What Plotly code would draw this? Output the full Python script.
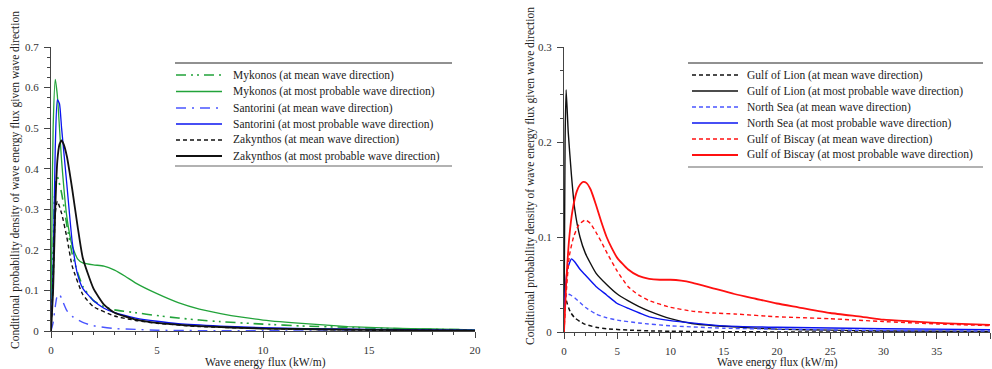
import plotly.graph_objects as go

# ---------------- data: left panel (Greek islands) ----------------
myk_mean_x = [0, 0.1, 0.2, 0.3, 0.5, 0.75, 1, 1.25, 1.5, 2, 2.5, 3, 4, 5, 6, 7, 8, 10, 12, 14, 16, 18, 20]
myk_mean_y = [0, 0.2, 0.36, 0.38, 0.34, 0.26, 0.19, 0.145, 0.11, 0.075, 0.06, 0.052, 0.045, 0.038, 0.032, 0.027, 0.023, 0.017, 0.012, 0.009, 0.006, 0.004, 0.003]

myk_prob_x = [0, 0.05, 0.1, 0.2, 0.3, 0.5, 0.75, 1.0, 1.25, 1.5, 2, 2.5, 3, 3.5, 4, 5, 6, 7, 8, 9, 10, 12, 14, 16, 18, 20]
myk_prob_y = [0, 0.3, 0.5, 0.62, 0.58, 0.42, 0.28, 0.21, 0.178, 0.168, 0.163, 0.16, 0.15, 0.135, 0.118, 0.092, 0.07, 0.054, 0.043, 0.034, 0.027, 0.018, 0.011, 0.007, 0.005, 0.003]

san_mean_x = [0, 0.1, 0.2, 0.3, 0.4, 0.5, 0.75, 1, 1.5, 2, 3, 4, 5, 7, 10, 15, 20]
san_mean_y = [0, 0.02, 0.06, 0.088, 0.09, 0.08, 0.05, 0.036, 0.021, 0.013, 0.006, 0.004, 0.002, 0.001, 0.0005, 0.0002, 0.0001]

san_prob_x = [0, 0.1, 0.2, 0.3, 0.4, 0.5, 0.75, 1, 1.25, 1.5, 2, 2.5, 3, 4, 5, 6, 8, 10, 12, 15, 20]
san_prob_y = [0, 0.15, 0.45, 0.57, 0.56, 0.5, 0.36, 0.22, 0.14, 0.105, 0.075, 0.056, 0.045, 0.032, 0.024, 0.018, 0.012, 0.008, 0.006, 0.004, 0.002]

zak_mean_x = [0, 0.1, 0.2, 0.3, 0.5, 0.75, 1, 1.5, 2, 3, 4, 5, 7, 10, 15, 20]
zak_mean_y = [0, 0.12, 0.29, 0.32, 0.29, 0.23, 0.16, 0.09, 0.06, 0.037, 0.026, 0.019, 0.011, 0.006, 0.002, 0.001]

zak_prob_x = [0, 0.1, 0.2, 0.3, 0.4, 0.5, 0.6, 0.75, 1, 1.25, 1.5, 2, 2.5, 3, 4, 5, 7, 10, 15, 20]
zak_prob_y = [0, 0.1, 0.3, 0.42, 0.46, 0.47, 0.46, 0.43, 0.35, 0.26, 0.18, 0.105, 0.065, 0.045, 0.028, 0.02, 0.012, 0.006, 0.003, 0.001]

# ---------------- data: right panel ----------------
lion_mean_x = [0.05, 0.1, 0.3, 0.6, 1, 1.5, 2, 3, 4, 6, 8, 10, 15, 20, 40]
lion_mean_y = [0.04, 0.038, 0.03, 0.021, 0.015, 0.011, 0.008, 0.005, 0.0035, 0.002, 0.0012, 0.0008, 0.0003, 0.0001, 0]

lion_prob_x = [0, 0.1, 0.2, 0.4, 0.7, 1, 1.5, 2, 3, 4, 5, 6, 7, 8, 10, 12, 15, 20, 25, 30, 40]
lion_prob_y = [0, 0.2, 0.255, 0.21, 0.165, 0.13, 0.1, 0.083, 0.062, 0.05, 0.04, 0.033, 0.027, 0.022, 0.014, 0.009, 0.006, 0.003, 0.002, 0.001, 0.0005]

ns_mean_x = [0, 0.1, 0.3, 0.6, 1, 1.5, 2, 3, 4, 5, 7, 10, 15, 20, 30, 40]
ns_mean_y = [0.02, 0.035, 0.04, 0.039, 0.036, 0.031, 0.026, 0.019, 0.015, 0.0125, 0.0095, 0.0065, 0.004, 0.003, 0.0015, 0.001]

ns_prob_x = [0, 0.1, 0.3, 0.7, 1, 1.5, 2, 3, 4, 5, 6, 8, 10, 15, 20, 30, 40]
ns_prob_y = [0, 0.04, 0.065, 0.077, 0.074, 0.066, 0.06, 0.048, 0.039, 0.03, 0.025, 0.016, 0.012, 0.0065, 0.005, 0.0035, 0.0025]

bis_mean_x = [0, 0.2, 0.5, 0.9, 1.4, 2, 2.5, 3, 3.5, 4, 5, 6, 7, 8, 10, 12, 14, 16, 20, 25, 30, 35, 40]
bis_mean_y = [0, 0.04, 0.08, 0.1, 0.113, 0.118, 0.114, 0.105, 0.095, 0.084, 0.064, 0.048, 0.039, 0.033, 0.026, 0.022, 0.02, 0.019, 0.016, 0.014, 0.011, 0.0085, 0.0067]

bis_prob_x = [0, 0.2, 0.5, 0.8, 1.2, 1.5, 1.8, 2.1, 2.5, 3, 3.5, 4, 4.5, 5, 6, 7, 8, 9, 10, 11, 12, 13, 14, 16, 18, 20, 22, 25, 28, 30, 33, 36, 40]
bis_prob_y = [0, 0.05, 0.1, 0.128, 0.148, 0.155, 0.158, 0.157, 0.15, 0.134, 0.116, 0.1, 0.088, 0.078, 0.066, 0.059, 0.056, 0.055, 0.055, 0.054, 0.052, 0.049, 0.046, 0.04, 0.035, 0.03, 0.026, 0.02, 0.016, 0.013, 0.011, 0.009, 0.0074]

left_ticks = [0, 5, 10, 15, 20]
right_ticks = [0, 5, 10, 15, 20, 25, 30, 35, 40]

GREEN = "#22a33a"
BLUE = "#0a14f0"
LBLUE = "#4a55ff"
RED = "#ff1010"
BLACK = "#111111"
DASH_MDD = "10px,5px,2px,4px,2px,5px"
DASH_MD = "10px,6px,2px,6px"
DASH = "4px,3px"

left_series = [
    ("Mykonos (at mean wave direction)", myk_mean_x, myk_mean_y, GREEN, DASH_MDD, 1.6),
    ("Mykonos (at most probable wave direction)", myk_prob_x, myk_prob_y, GREEN, "solid", 1.3),
    ("Santorini (at mean wave direction)", san_mean_x, san_mean_y, LBLUE, DASH_MD, 1.4),
    ("Santorini (at most probable wave direction)", san_prob_x, san_prob_y, BLUE, "solid", 1.3),
    ("Zakynthos (at mean wave direction)", zak_mean_x, zak_mean_y, BLACK, DASH, 1.4),
    ("Zakynthos (at most probable wave direction)", zak_prob_x, zak_prob_y, BLACK, "solid", 1.8),
]
right_series = [
    ("Gulf of Lion (at mean wave direction)", lion_mean_x, lion_mean_y, BLACK, DASH, 1.5),
    ("Gulf of Lion (at most probable wave direction)", lion_prob_x, lion_prob_y, BLACK, "solid", 1.4),
    ("North Sea (at mean wave direction)", ns_mean_x, ns_mean_y, LBLUE, DASH, 1.4),
    ("North Sea (at most probable wave direction)", ns_prob_x, ns_prob_y, BLUE, "solid", 1.4),
    ("Gulf of Biscay (at mean wave direction)", bis_mean_x, bis_mean_y, RED, DASH, 1.4),
    ("Gulf of Biscay (at most probable wave direction)", bis_prob_x, bis_prob_y, RED, "solid", 1.8),
]

W, H = 992, 369
FONT = "Liberation Serif"
TXT = 11.5

fig = go.Figure()
for name, xs, ys, col, dash, wd in left_series:
    fig.add_trace(go.Scatter(x=xs, y=ys, mode="lines", name=name, xaxis="x", yaxis="y",
                             line=dict(color=col, dash=dash, width=wd, shape="spline", smoothing=0.5),
                             showlegend=False))
for name, xs, ys, col, dash, wd in right_series:
    fig.add_trace(go.Scatter(x=xs, y=ys, mode="lines", name=name, xaxis="x2", yaxis="y2",
                             line=dict(color=col, dash=dash, width=wd, shape="spline", smoothing=0.5),
                             showlegend=False))

def px_x(p):
    return p / W

def px_y(p):
    return (H - p) / H

axis_common = dict(showline=True, linecolor="#444", linewidth=1, ticks="outside", ticklen=6,
                   tickcolor="#444", showgrid=False, zeroline=False, automargin=False,
                   tickfont=dict(family=FONT, size=11, color="#333"), ticklabelstandoff=3)

fig.update_layout(
    width=W, height=H, autosize=False,
    margin=dict(l=0, r=0, t=0, b=0, pad=0, autoexpand=False),
    paper_bgcolor="white", plot_bgcolor="white",
    font=dict(family=FONT, size=11, color="#222"),
    xaxis=dict(domain=[px_x(51), px_x(475)], range=[0, 20], tickvals=left_ticks,
               minor=dict(dtick=1, ticks="outside", ticklen=3, tickcolor="#444"),
               anchor="y", **axis_common),
    yaxis=dict(domain=[px_y(331), px_y(47)], range=[0, 0.7], dtick=0.1,
               minor=dict(dtick=0.025, ticks="outside", ticklen=3, tickcolor="#444"),
               anchor="x", **axis_common),
    xaxis2=dict(domain=[px_x(564), px_x(990)], range=[0, 40], tickvals=right_ticks,
                minor=dict(dtick=1, ticks="outside", ticklen=3, tickcolor="#444"),
                anchor="y2", **axis_common),
    yaxis2=dict(domain=[px_y(332), px_y(47)], range=[0, 0.3], dtick=0.1,
                minor=dict(dtick=0.025, ticks="outside", ticklen=3, tickcolor="#444"),
                anchor="x2", **axis_common),
)

shapes = []
annotations = []

ytitle = "Conditional probability density of wave energy flux given wave direction"
xtitle = "Wave energy flux (kW/m)"
for cx, cy in [(15, 180), (530, 176)]:
    annotations.append(dict(x=px_x(cx), y=px_y(cy), xref="paper", yref="paper", text=ytitle,
                            textangle=-90, showarrow=False, xanchor="center", yanchor="middle",
                            font=dict(family=FONT, size=TXT, color="#222")))
for cx in [265, 777]:
    annotations.append(dict(x=px_x(cx), y=px_y(362), xref="paper", yref="paper", text=xtitle,
                            showarrow=False, xanchor="center", yanchor="middle",
                            font=dict(family=FONT, size=TXT, color="#222")))

def legend(series, x0, x1, sx0, sx1, tx, rows, ytop, ybot):
    shapes.append(dict(type="line", xref="paper", yref="paper", x0=px_x(x0), x1=px_x(x1),
                       y0=px_y(ytop), y1=px_y(ytop), line=dict(color="#222", width=1)))
    shapes.append(dict(type="line", xref="paper", yref="paper", x0=px_x(x0), x1=px_x(x1),
                       y0=px_y(ybot), y1=px_y(ybot), line=dict(color="#999", width=1.5)))
    for (name, xs, ys, col, dash, wd), ry in zip(series, rows):
        shapes.append(dict(type="line", xref="paper", yref="paper", x0=px_x(sx0), x1=px_x(sx1),
                           y0=px_y(ry), y1=px_y(ry), line=dict(color=col, dash=dash, width=wd)))
        annotations.append(dict(x=px_x(tx), y=px_y(ry), xref="paper", yref="paper", text=name,
                                showarrow=False, xanchor="left", yanchor="middle",
                                font=dict(family=FONT, size=TXT, color="#222")))

legend(left_series, 175, 452, 176, 222, 231, [75, 91.5, 108, 124, 140, 156], 63, 166)
legend(right_series, 688, 983, 692, 738, 745, [75, 91, 107, 123, 139, 155], 63, 167)

fig.update_layout(shapes=shapes, annotations=annotations)

post = ("document.documentElement.style.margin='0';document.body.style.margin='0';"
        "document.body.style.padding='0';document.body.style.overflow='hidden';"
        "document.documentElement.style.overflow='hidden';")
fig.write_html("out.html", config={"responsive": False, "displayModeBar": False}, post_script=post)
